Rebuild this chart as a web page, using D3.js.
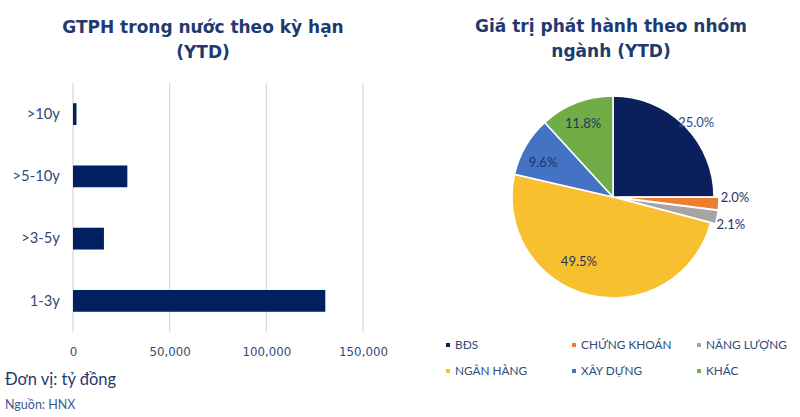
<!DOCTYPE html>
<html><head><meta charset="utf-8">
<script src="https://cdn.jsdelivr.net/npm/d3@7/dist/d3.min.js"></script>
<style>body{margin:0;background:#fff}svg{display:block}</style>
</head><body>
<svg id="c" width="800" height="417"></svg>
<script>
// ---- data ----
const barCategories = [">10y", ">5-10y", ">3-5y", "1-3y"];
const barValues = [1800, 28100, 16000, 130500];
const xTicks = [0, 50000, 100000, 150000];

const pieCategories = ["BĐS", "CHỨNG KHOÁN", "NĂNG LƯỢNG", "NGÂN HÀNG", "XÂY DỰNG", "KHÁC"];
const pieValues = [25.0, 2.0, 2.1, 49.5, 9.6, 11.8];
const pieColors = ["#0B1F5C", "#ED7D31", "#A5A5A5", "#F8BF2F", "#4472C4", "#70AD47"];
// label placement style (radius, angle offset in degrees), explode offsets
const pieLabelStyle = [[112, 3], [122, -3.6], [121, 2], [73, 14], [78, -4], [79, -1]];
const pieExplode = [0, 5, 5, 0, 0, 0];

const svg = d3.select("#c");
const navy = "#1F3A6E";
const titleFont = "'DejaVu Sans', Verdana, sans-serif";
const bodyFont = "Lato, 'Noto Sans', sans-serif";

// ---- bar chart ----
const x = d3.scaleLinear().domain([0, 150000]).range([73, 363]);
const y = d3.scaleBand().domain(barCategories).range([83, 332]).paddingInner(0.65).paddingOuter(0.325);

svg.append("g").selectAll("line").data(xTicks).join("line")
  .attr("x1", d => x(d)).attr("x2", d => x(d)).attr("y1", 83).attr("y2", 332)
  .attr("stroke", "#DCDCDC").attr("stroke-width", 1.3);

svg.append("g").selectAll("rect").data(barValues).join("rect")
  .attr("x", x(0)).attr("y", (d, i) => y(barCategories[i]))
  .attr("width", d => x(d) - x(0)).attr("height", y.bandwidth())
  .attr("fill", "#002060");

const xAxis = svg.append("g").attr("transform", "translate(0,345)")
  .call(d3.axisBottom(x).tickValues(xTicks).tickSize(0).tickFormat(d3.format(",")));
xAxis.select(".domain").remove();
xAxis.selectAll("text").attr("font-family", titleFont).attr("font-size", 11.8).attr("fill", "#2F4A7A");

const yAxis = svg.append("g").attr("transform", "translate(60,0)")
  .call(d3.axisLeft(y).tickSize(0).tickPadding(0));
yAxis.select(".domain").remove();
yAxis.selectAll("text").attr("font-family", bodyFont).attr("font-size", 14.8).attr("fill", "#2F4A7A");

const t1 = svg.append("g").attr("font-family", titleFont).attr("font-weight", "bold")
  .attr("font-size", 17).attr("fill", navy).attr("text-anchor", "middle");
t1.append("text").attr("x", 203).attr("y", 33).text("GTPH trong nước theo kỳ hạn");
t1.append("text").attr("x", 203).attr("y", 58).text("(YTD)");

svg.append("text").attr("x", 5).attr("y", 385).attr("font-family", bodyFont).attr("font-size", 16.5)
  .attr("fill", navy).text("Đơn vị: tỷ đồng");
svg.append("text").attr("x", 5).attr("y", 409).attr("font-family", bodyFont).attr("font-size", 12.5)
  .attr("fill", "#3E5A8A").text("Nguồn: HNX");

// ---- pie chart ----
const cx = 613, cy = 197, R = 101;
const t2 = svg.append("g").attr("font-family", titleFont).attr("font-weight", "bold")
  .attr("font-size", 17).attr("fill", navy).attr("text-anchor", "middle");
t2.append("text").attr("x", 611).attr("y", 32).text("Giá trị phát hành theo nhóm");
t2.append("text").attr("x", 611).attr("y", 57).text("ngành (YTD)");

const pie = d3.pie().sort(null).value(d => d);
const arcs = pie(pieValues);
const arc = d3.arc().innerRadius(0).outerRadius(R);
const gp = svg.append("g").attr("transform", `translate(${cx},${cy})`);
gp.selectAll("path").data(arcs).join("path")
  .attr("d", arc)
  .attr("transform", (d, i) => {
    const a = (d.startAngle + d.endAngle) / 2, o = pieExplode[i];
    return `translate(${o * Math.sin(a)},${-o * Math.cos(a)})`;
  })
  .attr("fill", (d, i) => pieColors[i]).attr("stroke", "#fff").attr("stroke-width", 1.5);

gp.selectAll("text").data(arcs).join("text")
  .attr("x", (d, i) => {
    const a = (d.startAngle + d.endAngle) / 2 + pieLabelStyle[i][1] * Math.PI / 180;
    return pieLabelStyle[i][0] * Math.sin(a);
  })
  .attr("y", (d, i) => {
    const a = (d.startAngle + d.endAngle) / 2 + pieLabelStyle[i][1] * Math.PI / 180;
    return -pieLabelStyle[i][0] * Math.cos(a);
  })
  .attr("dy", "0.35em").attr("text-anchor", "middle")
  .attr("font-family", bodyFont).attr("font-size", 13).attr("fill", (d, i) => i === 0 ? "#2F4A8A" : "#1F3464")
  .text(d => d.data.toFixed(1) + "%");

// ---- legend ----
const legX = [448, 574, 699], legY = [345, 371];
const lg = svg.append("g").selectAll("g").data(pieCategories).join("g")
  .attr("transform", (d, i) => `translate(${legX[i % 3]},${legY[Math.floor(i / 3)]})`);
lg.append("rect").attr("x", -2).attr("y", -2).attr("width", 4).attr("height", 4).attr("fill", (d, i) => pieColors[i]);
lg.append("text").attr("x", 7).attr("dy", "0.35em").attr("font-family", bodyFont).attr("font-size", 11.8)
  .attr("fill", "#2F4A7A").text(d => d);
</script>
</body></html>
